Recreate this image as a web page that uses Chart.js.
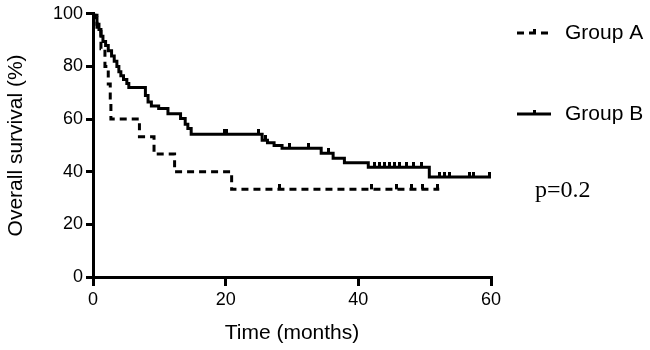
<!DOCTYPE html>
<html>
<head>
<meta charset="utf-8">
<title>Overall survival</title>
<script src="https://cdn.jsdelivr.net/npm/chart.js@4/dist/chart.umd.min.js"></script>
<style>
  body { margin: 0; background: #fff; }
  #wrap { width: 650px; height: 350px; position: relative; }
</style>
</head>
<body>
<div id="wrap"><canvas id="kmChart"></canvas></div>
<script>
// Kaplan-Meier steps (months, % surviving)
const groupATime = [0, 0.6, 1.2, 1.8, 2.3, 2.6, 2.7, 7.0, 9.2, 12.3, 20.9, 52.2];
const groupASurv = [100, 93.3, 86.7, 80, 73.3, 66.7, 60, 53.3, 46.7, 40, 33.3, 33.3];
const groupACensor = [28.1, 42, 45.7, 48, 49.6, 51.9];

const groupBTime = [0, 0.3, 0.6, 0.9, 1.2, 1.5, 1.9, 2.3, 2.8, 3.2, 3.6, 3.9, 4.2, 4.6, 5.1, 5.4,
  7.9, 8.3, 8.8, 9.9, 11.3, 13.2, 13.9, 14.3, 14.8, 25.5, 26.3, 27.3, 28.5, 34.4, 36.2, 37.9, 41.5, 50.7, 60];
const groupBSurv = [100, 98.5, 96, 94, 91.5, 89.5, 88, 86, 84, 82, 80, 78, 76.5, 75, 73.5, 72,
  69, 66.5, 65, 64, 62, 60.2, 58, 56.4, 54.2, 52, 51, 50, 48.9, 47, 45.1, 43.4, 41.7, 38, 38];
const groupBCensor = [19.8, 20.1, 25.0, 26.0, 29.6, 32.5, 35.5, 42.4, 43.2, 44, 44.7, 45.5, 46.2,
  47.2, 48.3, 49.5, 52.3, 53, 53.7, 56.7, 57.4, 59.7];

const groupLabels = ['Group A', 'Group B'];
const xTicks = [0, 20, 40, 60];
const yTicks = [0, 20, 40, 60, 80, 100];
const pValueText = 'p=0.2';

// Turn time/survival arrays into {x, y} points
function toPoints(times, surv) {
  return times.map((t, i) => ({ x: t, y: surv[i] }));
}

// Place censor ticks on the step curve at the given times
function censorPoints(censor, times, surv) {
  return censor.map(t => {
    let level = surv[0];
    for (let i = 0; i < times.length; i++) {
      if (times[i] <= t) level = surv[i];
    }
    return { x: t, y: level };
  });
}

// Small upward tick used as the censor marker (drawn centred, so bottom half is blank)
function makeCensorTick() {
  const c = document.createElement('canvas');
  c.width = 3;
  c.height = 10;
  const g = c.getContext('2d');
  g.fillStyle = '#000';
  g.fillRect(0, 0, 3, 5);
  return c;
}
const censorTick = makeCensorTick();

// Draws the legend on the right and the p value
const sideLegend = {
  id: 'sideLegend',
  afterDraw(chart) {
    const ctx = chart.ctx;
    ctx.save();
    ctx.strokeStyle = '#000';
    ctx.fillStyle = '#000';
    ctx.lineWidth = 3;
    const rows = [
      { label: groupLabels[0], y: 33, dash: [7, 5] },
      { label: groupLabels[1], y: 114, dash: [] }
    ];
    rows.forEach(r => {
      ctx.setLineDash(r.dash);
      ctx.beginPath();
      ctx.moveTo(517, r.y);
      ctx.lineTo(551, r.y);
      ctx.stroke();
      ctx.setLineDash([]);
      ctx.fillRect(533, r.y - 4, 3, 4);
      ctx.font = '21px "Liberation Sans", Arial, sans-serif';
      ctx.textBaseline = 'middle';
      ctx.textAlign = 'left';
      ctx.fillText(r.label, 565, r.y);
    });
    ctx.font = '24px "Liberation Serif", "Times New Roman", serif';
    ctx.textBaseline = 'middle';
    ctx.fillText(pValueText, 535, 191);
    ctx.restore();
  }
};

const tickFont = { family: '"Liberation Sans", Arial, sans-serif', size: 18 };
const titleFont = { family: '"Liberation Sans", Arial, sans-serif', size: 21 };

new Chart(document.getElementById('kmChart'), {
  type: 'line',
  data: {
    datasets: [
      {
        label: groupLabels[0],
        data: toPoints(groupATime, groupASurv),
        stepped: 'before',
        borderColor: '#000',
        borderWidth: 3,
        borderDash: [7, 5],
        pointRadius: 0,
        fill: false
      },
      {
        label: groupLabels[1],
        data: toPoints(groupBTime, groupBSurv),
        stepped: 'before',
        borderColor: '#000',
        borderWidth: 3,
        pointRadius: 0,
        fill: false
      },
      {
        label: 'A censored',
        data: censorPoints(groupACensor, groupATime, groupASurv),
        showLine: false,
        pointStyle: censorTick,
        pointRadius: 5
      },
      {
        label: 'B censored',
        data: censorPoints(groupBCensor, groupBTime, groupBSurv),
        showLine: false,
        pointStyle: censorTick,
        pointRadius: 5
      }
    ]
  },
  options: {
    responsive: true,
    maintainAspectRatio: false,
    animation: false,
    layout: { padding: { top: 13, right: 159, bottom: 0, left: 0 } },
    plugins: {
      legend: { display: false },
      tooltip: { enabled: false }
    },
    scales: {
      x: {
        type: 'linear',
        min: 0,
        max: 60,
        afterBuildTicks(scale) { scale.ticks = xTicks.map(v => ({ value: v })); },
        afterFit(scale) { scale.height = 73; },
        ticks: { color: '#000', font: tickFont, padding: 3, maxRotation: 0 },
        grid: { drawOnChartArea: false, drawTicks: true, tickLength: 9, lineWidth: 3, color: '#000' },
        border: { display: true, width: 3, color: '#000' },
        title: { display: true, text: 'Time (months)', color: '#000', font: titleFont, padding: { top: 4, bottom: 4 } }
      },
      y: {
        type: 'linear',
        min: 0,
        max: 100,
        afterBuildTicks(scale) { scale.ticks = yTicks.map(v => ({ value: v })); },
        afterFit(scale) { scale.width = 93; },
        ticks: { color: '#000', font: tickFont, padding: 3 },
        grid: { drawOnChartArea: false, drawTicks: true, tickLength: 7, lineWidth: 3, color: '#000' },
        border: { display: true, width: 3, color: '#000' },
        title: { display: true, text: 'Overall survival (%)', color: '#000', font: titleFont, padding: { top: 4, bottom: 4 } }
      }
    }
  },
  plugins: [sideLegend]
});
</script>
</body>
</html>
